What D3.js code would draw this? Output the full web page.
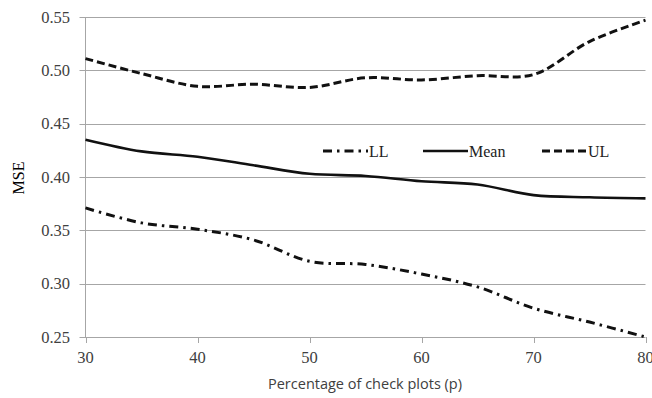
<!DOCTYPE html>
<html><head><meta charset="utf-8">
<script src="https://cdn.jsdelivr.net/npm/d3@7"></script>
<style>body{margin:0;background:#fff}svg{display:block}</style>
</head><body>
<svg id="chart" width="652" height="398"></svg>
<script>
const xValues = [30, 35, 40, 45, 50, 55, 60, 65, 70, 75, 80];
const llValues = [0.371, 0.357, 0.351, 0.341, 0.321, 0.318, 0.309, 0.297, 0.277, 0.264, 0.250];
const meanValues = [0.435, 0.424, 0.419, 0.411, 0.403, 0.401, 0.396, 0.393, 0.383, 0.381, 0.380];
const ulValues = [0.511, 0.497, 0.485, 0.487, 0.484, 0.493, 0.491, 0.495, 0.496, 0.527, 0.547];
const xTicks = [30, 40, 50, 60, 70, 80];
const yTicks = [0.25, 0.30, 0.35, 0.40, 0.45, 0.50, 0.55];
const seriesNames = ["LL", "Mean", "UL"];

const svg = d3.select("#chart");
const m = {left: 85.5, right: 645.5, top: 17, bottom: 337};
const x = d3.scaleLinear().domain([30, 80]).range([m.left, m.right]);
const y = d3.scaleLinear().domain([0.25, 0.55]).range([m.bottom, m.top]);
const grid = "#a6a6a6";
const serif = "'Liberation Serif', 'Times New Roman', serif";

// gridlines
svg.append("g").selectAll("line").data(yTicks).join("line")
  .attr("x1", m.left - 6).attr("x2", m.right)
  .attr("y1", d => Math.round(y(d)) + 0.5).attr("y2", d => Math.round(y(d)) + 0.5)
  .attr("stroke", grid).attr("stroke-width", 1);

// y axis line
svg.append("line").attr("x1", m.left).attr("x2", m.left)
  .attr("y1", m.top).attr("y2", m.bottom + 0.5).attr("stroke", grid);

// x axis ticks
svg.append("g").selectAll("line").data(xTicks).join("line")
  .attr("x1", d => Math.round(x(d)) + 0.5).attr("x2", d => Math.round(x(d)) + 0.5)
  .attr("y1", m.bottom).attr("y2", m.bottom + 6).attr("stroke", grid);

// y tick labels
svg.append("g").selectAll("text").data(yTicks).join("text")
  .attr("x", 70).attr("y", d => y(d) + 5.5)
  .attr("text-anchor", "end")
  .attr("font-family", serif)
  .attr("font-size", 16.5).attr("fill", "#404040")
  .text(d => d3.format(".2f")(d));

// x tick labels
svg.append("g").selectAll("text").data(xTicks).join("text")
  .attr("x", d => x(d)).attr("y", 363)
  .attr("text-anchor", "middle")
  .attr("font-family", serif)
  .attr("font-size", 16.5).attr("fill", "#404040")
  .text(d => d);

// axis titles
svg.append("text").attr("x", 365).attr("y", 389)
  .attr("text-anchor", "middle")
  .attr("font-family", "'Open Sans', 'Liberation Sans', sans-serif")
  .attr("font-size", 14.5).attr("fill", "#404040")
  .text("Percentage of check plots (p)");
svg.append("text")
  .attr("transform", "translate(24,178) rotate(-90)")
  .attr("text-anchor", "middle")
  .attr("font-family", serif)
  .attr("font-size", 16).attr("fill", "#000")
  .text("MSE");

const styles = {
  LL: {dash: "9,5,2.5,5", width: 3},
  Mean: {dash: null, width: 2.6},
  UL: {dash: "8,4", width: 3}
};
const seriesData = {LL: llValues, Mean: meanValues, UL: ulValues};

const line = d3.line().x(d => x(d[0])).y(d => y(d[1])).curve(d3.curveCatmullRom.alpha(0.5));
seriesNames.forEach(name => {
  const pts = xValues.map((v, i) => [v, seriesData[name][i]]);
  svg.append("path").datum(pts)
    .attr("d", line).attr("fill", "none")
    .attr("stroke", "#111").attr("stroke-width", styles[name].width)
    .attr("stroke-dasharray", styles[name].dash);
});

// legend
const legendX = [323, 423, 542];
const legend = svg.append("g");
seriesNames.forEach((name, i) => {
  legend.append("line")
    .attr("x1", legendX[i]).attr("x2", legendX[i] + 45)
    .attr("y1", 151).attr("y2", 151)
    .attr("stroke", "#111").attr("stroke-width", styles[name].width)
    .attr("stroke-dasharray", styles[name].dash);
  legend.append("text")
    .attr("x", legendX[i] + 46).attr("y", 157)
    .attr("font-family", serif)
    .attr("font-size", 16).attr("fill", "#222")
    .text(name);
});
</script>
</body></html>
